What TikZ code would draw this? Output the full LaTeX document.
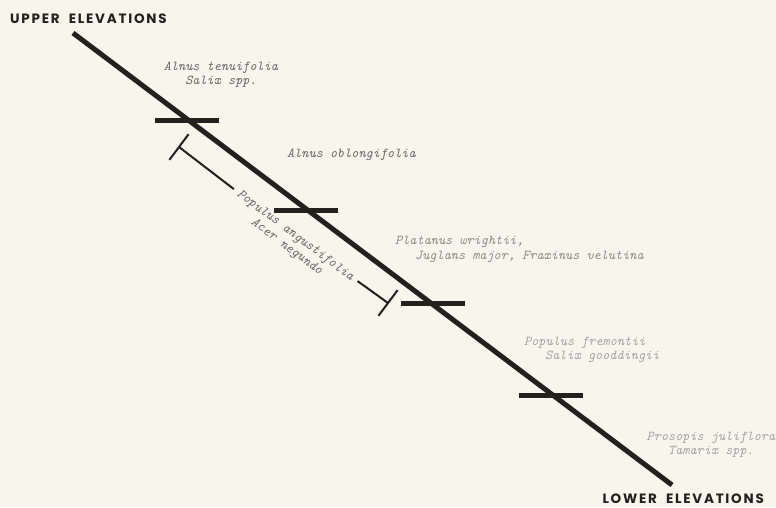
\documentclass[tikz,border=0pt]{standalone}
\usepackage{fontspec}
\newfontfamily\headfont[LetterSpace=13, WordSpace=2]{Poppins}
\usetikzlibrary{calc}
\definecolor{paper}{RGB}{246,246,236}
\definecolor{ink}{RGB}{35,32,30}
\definecolor{labelgray}{RGB}{105,105,105}
\definecolor{fadegray}{RGB}{140,140,138}
\definecolor{palegray}{RGB}{165,165,160}
\tikzset{
  axisline/.style={line width=5pt, draw=ink},
  tickbar/.style={line width=5pt, draw=ink},
  rangeline/.style={line width=2pt, draw=ink},
  species/.style={font=\fontsize{13.6}{14}\selectfont\ttfamily\itshape, text=labelgray, inner sep=0pt},
  heading/.style={font=\fontsize{13.5}{14}\selectfont\headfont\bfseries, text=ink, inner sep=0pt}
}
\begin{document}
\begin{tikzpicture}[x=1pt,y=-1pt]
\fill[paper] (0,0) rectangle (776,507);
\useasboundingbox (0,0) rectangle (776,507);

% end labels
\node[heading, anchor=west] (upper) at (10,19) {UPPER ELEVATIONS};
\node[heading, anchor=east] (lower) at (764,499) {LOWER ELEVATIONS};

% elevation gradient
\coordinate (top) at (73,33);
\coordinate (bot) at (672,485);
\draw[axisline] (top) -- (bot);

% zone boundaries
\coordinate (t1l) at (155,120); \coordinate (t1r) at (219,120);
\coordinate (t2l) at (274,210); \coordinate (t2r) at (338,210);
\coordinate (t3l) at (401,303); \coordinate (t3r) at (465,303);
\coordinate (t4l) at (519,395); \coordinate (t4r) at (583,395);
\draw[tickbar] (t1l) -- (t1r);
\draw[tickbar] (t2l) -- (t2r);
\draw[tickbar] (t3l) -- (t3r);
\draw[tickbar] (t4l) -- (t4r);

% species of each zone
\node[species, align=center] (tenui) at (221,75) {Alnus tenuifolia\\Salix spp.};
\node[species, anchor=west] (oblong) at (287,155) {Alnus oblongifolia};
\node[species, anchor=west, text=fadegray] (plat) at (395,242) {Platanus wrightii,};
\node[species, anchor=west, text=fadegray] (jugl) at (415,257) {Juglans major, Fraxinus velutina};
\node[species, anchor=west, text=palegray] (fremo) at (524,343) {Populus fremontii};
\node[species, anchor=west, text=palegray] (goodd) at (545,357) {Salix gooddingii};
\node[species, align=center, text=palegray] (proso) at (711,445) {Prosopis juliflora\\Tamarix spp.};

% range spanning several zones
\coordinate (ba) at (179,147);
\coordinate (bb) at (388,303);
\node[species, rotate=-36.9, inner xsep=5.5pt] (angus) at (295,236) {Populus angustifolia};
\node[species, rotate=-36.9] (acer) at (286.6,247.2) {Acer negundo};
\draw[rangeline] (ba) -- (angus);
\draw[rangeline] (angus) -- (bb);
\draw[rangeline] ($(ba)!16pt!90:(bb)$) -- ($(ba)!16pt!-90:(bb)$);
\draw[rangeline] ($(bb)!16pt!90:(ba)$) -- ($(bb)!16pt!-90:(ba)$);
\end{tikzpicture}
\end{document}
